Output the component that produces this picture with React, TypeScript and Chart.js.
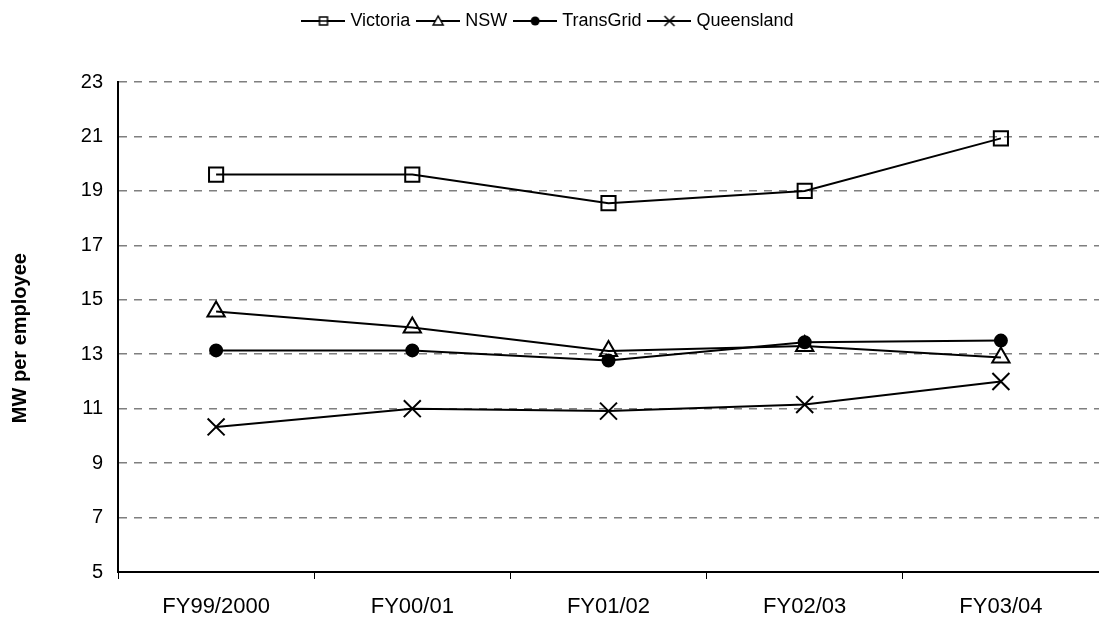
import React, { useEffect, useRef } from 'react';
import { Chart, registerables } from 'chart.js';

Chart.register(...registerables);

const categories = ['FY99/2000', 'FY00/01', 'FY01/02', 'FY02/03', 'FY03/04'];
const victoria = [19.6, 19.6, 18.55, 19.0, 20.93];
const nsw = [14.57, 13.98, 13.12, 13.3, 12.88];
const transgrid = [13.14, 13.14, 12.77, 13.44, 13.5];
const queensland = [10.33, 11.0, 10.91, 11.15, 12.0];
const seriesNames = ['Victoria', 'NSW', 'TransGrid', 'Queensland'];
const yTitle = 'MW per employee';

const FONT = "'Liberation Sans', Arial, sans-serif";

function makeIcon(kind: string): HTMLCanvasElement {
  const c = document.createElement('canvas');
  c.width = 44;
  c.height = 16;
  const g = c.getContext('2d')!;
  g.strokeStyle = '#000';
  g.fillStyle = '#000';
  g.lineWidth = 2;
  g.beginPath();
  g.moveTo(0, 8);
  g.lineTo(44, 8);
  g.stroke();
  g.lineWidth = 1.5;
  const cx = 22, cy = 8;
  if (kind === 'square') {
    g.fillStyle = '#fff';
    g.fillRect(cx - 4, cy - 4, 8, 8);
    g.strokeRect(cx - 4, cy - 4, 8, 8);
    g.beginPath();
    g.moveTo(cx - 4, cy);
    g.lineTo(cx + 4, cy);
    g.stroke();
  } else if (kind === 'triangle') {
    g.fillStyle = '#fff';
    g.beginPath();
    g.moveTo(cx, cy - 5);
    g.lineTo(cx + 5, cy + 4);
    g.lineTo(cx - 5, cy + 4);
    g.closePath();
    g.fill();
    g.stroke();
  } else if (kind === 'circle') {
    g.beginPath();
    g.arc(cx, cy, 4.5, 0, Math.PI * 2);
    g.fill();
  } else {
    g.beginPath();
    g.moveTo(cx - 5, cy - 5);
    g.lineTo(cx + 5, cy + 5);
    g.moveTo(cx + 5, cy - 5);
    g.lineTo(cx - 5, cy + 5);
    g.stroke();
  }
  return c;
}

export default function App() {
  const ref = useRef<HTMLCanvasElement>(null);
  useEffect(() => {
    const icons = [makeIcon('square'), makeIcon('triangle'), makeIcon('circle'), makeIcon('cross')];
    const common = {
      borderColor: '#000',
      borderWidth: 2,
      pointBorderColor: '#000',
      pointBorderWidth: 2,
      tension: 0,
      xAxisID: 'x',
      yAxisID: 'y',
    };
    const chart = new Chart(ref.current!, {
      type: 'line',
      data: {
        labels: categories,
        datasets: [
          { ...common, label: seriesNames[0], data: victoria, pointStyle: 'rect', pointRadius: 10, pointBackgroundColor: 'rgba(0,0,0,0)' },
          { ...common, label: seriesNames[1], data: nsw, pointStyle: 'triangle', pointRadius: 10, pointBackgroundColor: 'rgba(0,0,0,0)' },
          { ...common, label: seriesNames[2], data: transgrid, pointStyle: 'circle', pointRadius: 6, pointBackgroundColor: '#000' },
          { ...common, label: seriesNames[3], data: queensland, pointStyle: 'crossRot', pointRadius: 12, pointBackgroundColor: '#000' },
        ],
      },
      options: {
        responsive: false,
        animation: false,
        devicePixelRatio: 1,
        layout: { autoPadding: false, padding: { top: 2, left: 0, right: 0, bottom: 0 } },
        plugins: {
          tooltip: { enabled: false },
          legend: {
            position: 'top',
            labels: {
              usePointStyle: true,
              pointStyleWidth: 36,
              padding: 10,
              color: '#000',
              font: { family: FONT, size: 18 },
              generateLabels: (ch: any) =>
                ch.data.datasets.map((ds: any, i: number) => ({
                  text: ds.label,
                  datasetIndex: i,
                  pointStyle: icons[i],
                  fillStyle: '#000',
                  strokeStyle: '#000',
                  lineWidth: 0,
                  hidden: false,
                  fontColor: '#000',
                })),
            },
          },
        },
        scales: {
          x: {
            offset: true,
            grid: { offset: true, drawOnChartArea: false, drawTicks: true, tickLength: 7, color: '#000', lineWidth: 1 },
            border: { color: '#000', width: 2 },
            ticks: { color: '#000', font: { family: FONT, size: 22, lineHeight: '56px' }, padding: 0, maxRotation: 0 },
            afterFit: (s: any) => { s.height = 51; s.paddingLeft = 0; s.paddingRight = 0; },
          },
          xTop: {
            type: 'category',
            position: 'top',
            display: true,
            offset: true,
            grid: { display: false, drawTicks: false },
            border: { display: false },
            ticks: { display: false },
            afterFit: (s: any) => { s.height = 42; s.paddingLeft = 0; s.paddingRight = 0; },
          },
          y: {
            min: 5,
            max: 23,
            ticks: { stepSize: 2, color: '#000', font: { family: FONT, size: 20 }, padding: 15 },
            grid: { color: '#7f7f7f', lineWidth: 1.5, drawTicks: false },
            border: { color: '#000', width: 2, dash: [8, 7] },
            title: {
              display: true,
              text: yTitle + '\u00a0\u00a0\u00a0\u00a0',
              color: '#000',
              font: { family: FONT, size: 20, weight: 'bold' },
              padding: { top: 8, bottom: 0 },
            },
            afterFit: (s: any) => { s.width = 118; },
          },
        },
      },
    } as any);
    return () => chart.destroy();
  }, []);
  return (
    <div style={{ position: 'absolute', left: 0, top: 0, width: 1099, height: 623 }}>
      <canvas ref={ref} width={1099} height={623} style={{ display: 'block' }} />
    </div>
  );
}
